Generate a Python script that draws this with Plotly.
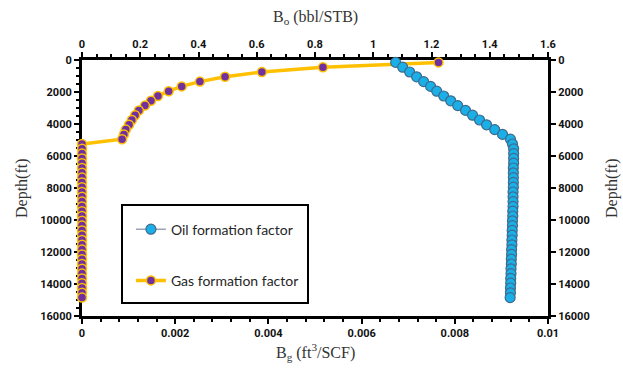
import plotly.graph_objects as go

# Depth (ft)
depth = [150, 450, 750, 1050, 1350, 1650, 1950, 2250, 2550, 2850,
         3150, 3450, 3750, 4050, 4350, 4650, 4950, 5250, 5550, 5850,
         6150, 6450, 6750, 7050, 7350, 7650, 7950, 8250, 8550, 8850,
         9150, 9450, 9750, 10050, 10350, 10650, 10950, 11250, 11550, 11850,
         12150, 12450, 12750, 13050, 13350, 13650, 13950, 14250, 14550, 14850]

# Oil formation volume factor Bo (bbl/STB)
oil_bo = [1.077, 1.101, 1.125, 1.149, 1.173, 1.197, 1.218, 1.242, 1.266, 1.290,
          1.317, 1.341, 1.365, 1.389, 1.417, 1.444, 1.471, 1.478, 1.482, 1.482,
          1.482, 1.482, 1.481, 1.481, 1.481, 1.481, 1.481, 1.480, 1.480, 1.480,
          1.480, 1.479, 1.479, 1.478, 1.478, 1.477, 1.477, 1.476, 1.476, 1.475,
          1.475, 1.474, 1.474, 1.473, 1.473, 1.472, 1.472, 1.471, 1.471, 1.470]

# Gas formation volume factor Bg (ft3/SCF)
gas_bg = [0.00765, 0.00517, 0.00386, 0.00307, 0.00253, 0.00214, 0.00186, 0.00163, 0.00148, 0.00135,
          0.00122, 0.00114, 0.00107, 0.00101, 0.00094, 0.00090, 0.00086, 0.0, 0.0, 0.0,
          0.0, 0.0, 0.0, 0.0, 0.0, 0.0, 0.0, 0.0, 0.0, 0.0,
          0.0, 0.0, 0.0, 0.0, 0.0, 0.0, 0.0, 0.0, 0.0, 0.0,
          0.0, 0.0, 0.0, 0.0, 0.0, 0.0, 0.0, 0.0, 0.0, 0.0]

TICKFONT = dict(family="Roboto", size=11, color="#111111", weight=700)
TITLEFONT = dict(family="Liberation Serif", size=16, color="#333333")

fig = go.Figure()

# invisible carrier so the right-hand depth axis is drawn
fig.add_trace(go.Scatter(
    x=gas_bg, y=depth, xaxis="x", yaxis="y2", mode="markers",
    marker=dict(opacity=0), showlegend=False, hoverinfo="skip",
))

fig.add_trace(go.Scatter(
    x=oil_bo, y=depth, xaxis="x2", yaxis="y", mode="lines+markers",
    name="Oil formation factor", legendgroup="oil",
    line=dict(color="#9AA3B5", width=1.5),
    marker=dict(size=10, color="#1AAFE6", line=dict(color="#3F6A8C", width=1.2)),
    cliponaxis=False,
))

fig.add_trace(go.Scatter(
    x=gas_bg, y=depth, xaxis="x", yaxis="y", mode="lines+markers",
    name="Gas formation factor", legendgroup="gas",
    line=dict(color="#FFC000", width=3.5),
    marker=dict(size=9, color="#7030A0", line=dict(color="#FFC000", width=1.5)),
    cliponaxis=False,
))

axis_common = dict(showgrid=False, zeroline=False, showline=True, linecolor="black",
                   linewidth=3, ticks="outside", ticklen=5, tickwidth=2, tickcolor="black",
                   tickfont=TICKFONT, layer="below traces")

fig.update_layout(
    width=623, height=368,
    margin=dict(l=82, r=75, t=60, b=52),
    paper_bgcolor="white", plot_bgcolor="white",
    showlegend=True,
    xaxis=dict(range=[0, 0.01], dtick=0.002, tick0=0, side="bottom", anchor="y",
               minor=dict(ticks="outside", dtick=0.0004, ticklen=3, tickwidth=1.5, tickcolor="black"),
               **axis_common),
    xaxis2=dict(range=[0, 1.6], dtick=0.2, tick0=0, side="top", overlaying="x", anchor="y",
                minor=dict(ticks="outside", dtick=0.05, ticklen=3, tickwidth=1.5, tickcolor="black"),
                **axis_common),
    yaxis=dict(range=[16000, 0], dtick=2000, tick0=0, side="left", anchor="x",
               tickformat="d",
               minor=dict(ticks="outside", dtick=500, ticklen=3, tickwidth=1.5, tickcolor="black"),
               **axis_common),
    yaxis2=dict(range=[16000, 0], dtick=2000, tick0=0, side="right", overlaying="y", anchor="x",
                tickformat="d", **axis_common),
    legend=dict(x=0.105, y=0.40, xanchor="left", yanchor="top",
                bgcolor="rgba(0,0,0,0)", borderwidth=0,
                font=dict(family="Lato", size=14, color="#262626"),
                tracegroupgap=30, itemwidth=30),
    shapes=[dict(type="rect", xref="paper", yref="paper",
                 x0=(122 - 82) / 466, x1=(308 - 82) / 466,
                 y0=(316 - 303) / 256, y1=(316 - 205) / 256,
                 line=dict(color="black", width=2), fillcolor="white", layer="below")],
    annotations=[
        dict(text="B<sub>o</sub> (bbl/STB)", xref="paper", yref="paper", x=0.5, y=1 + (60 - 17) / 256,
             showarrow=False, font=TITLEFONT, xanchor="center", yanchor="middle"),
        dict(text="B<sub>g</sub> (ft<sup>3</sup>/SCF)", xref="paper", yref="paper", x=0.5, y=-(352 - 316) / 256,
             showarrow=False, font=TITLEFONT, xanchor="center", yanchor="middle"),
        dict(text="Depth(ft)", xref="paper", yref="paper", x=-(82 - 22) / 466, y=0.5, textangle=-90,
             showarrow=False, font=TITLEFONT, xanchor="center", yanchor="middle"),
        dict(text="Depth(ft)", xref="paper", yref="paper", x=1 + (612 - 548) / 466, y=0.5, textangle=-90,
             showarrow=False, font=TITLEFONT, xanchor="center", yanchor="middle"),
    ],
)

fig.write_html("out.html")
